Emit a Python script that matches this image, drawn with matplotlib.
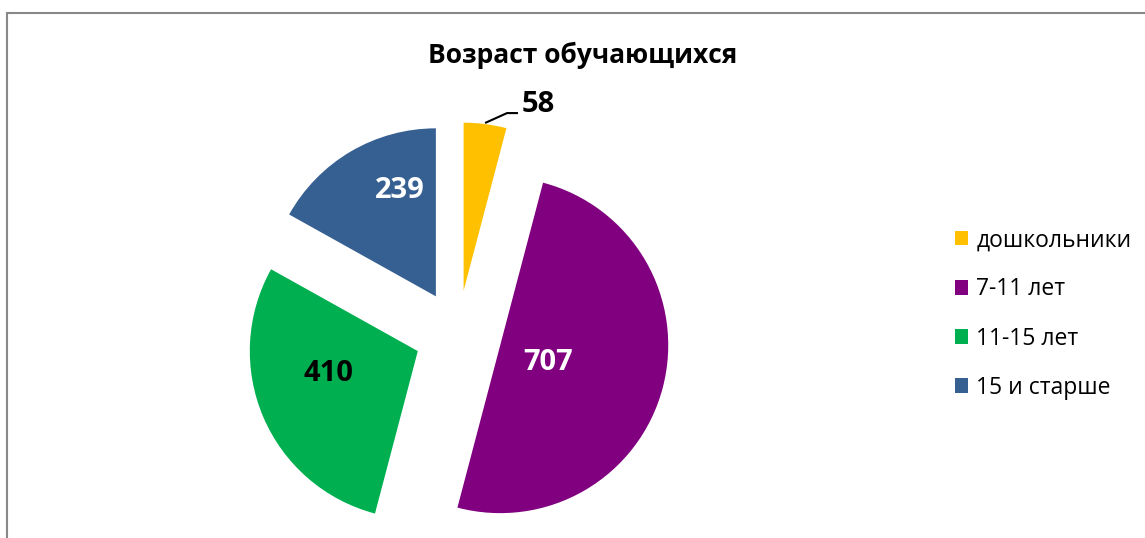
"""Pie chart: age of students (Возраст обучающихся)."""

import matplotlib

matplotlib.use("Agg")
import matplotlib.pyplot as plt

plt.rcParams["font.family"] = ["Open Sans", "DejaVu Sans"]

categories = ["дошкольники", "7-11 лет", "11-15 лет", "15 и старше"]
counts = [58, 707, 410, 239]
colors = ["#FFC000", "#800080", "#00B050", "#376092"]
label_colors = ["black", "white", "black", "white"]
title = "Возраст обучающихся"

# label spots in pie units (radius = 1)
label_pos = [(0.476, 1.369), (0.536, -0.167), (-0.768, -0.238), (-0.345, 0.857)]

W, H = 1145, 538
R_PX = 168          # pie radius in pixels
CX, CY = 458, 334   # pie centre (pixels from top-left)

fig = plt.figure(figsize=(W / 100, H / 100), dpi=100)
ax = fig.add_axes([0, 0, 1, 1])

total = sum(counts)
wedges, texts, autotexts = ax.pie(
    counts,
    colors=colors,
    startangle=90,
    counterclock=False,
    explode=[0.26] * len(counts),
    autopct=lambda p: f"{round(p * total / 100)}",
    wedgeprops=dict(linewidth=0),
)
for t, pos, c in zip(autotexts, label_pos, label_colors):
    t.set_position(pos)
    t.set_color(c)
    t.set_fontsize(21)
    t.set_fontweight("bold")
    t.set_ha("center")
    t.set_va("center")

# leader line for the small slice
ax.plot([0.161, 0.292, 0.357], [1.256, 1.315, 1.315], color="black", lw=1.5,
        solid_capstyle="butt")

ax.set_aspect("auto")
ax.set_xlim(-CX / R_PX, (W - CX) / R_PX)
ax.set_ylim(-(H - CY) / R_PX, CY / R_PX)
ax.axis("off")

fig.text(583 / W, 1 - 55 / H, title, ha="center", va="center",
         fontsize=19, fontweight="bold")

ax.legend(wedges, categories, loc="center left",
          bbox_to_anchor=(934 / W, 1 - 314 / H), bbox_transform=fig.transFigure,
          frameon=False, fontsize=16.5, handlelength=0.6, handleheight=0.6,
          handletextpad=0.35, labelspacing=1.1)

# outer chart border (runs off the right and bottom edges)
fig.patches.append(plt.Rectangle((7 / W, -0.1), 1.2, 1.1 - 13 / H,
                                 transform=fig.transFigure, fill=False,
                                 edgecolor="#888888", lw=1.5))

fig.savefig("out.png", dpi=100)
